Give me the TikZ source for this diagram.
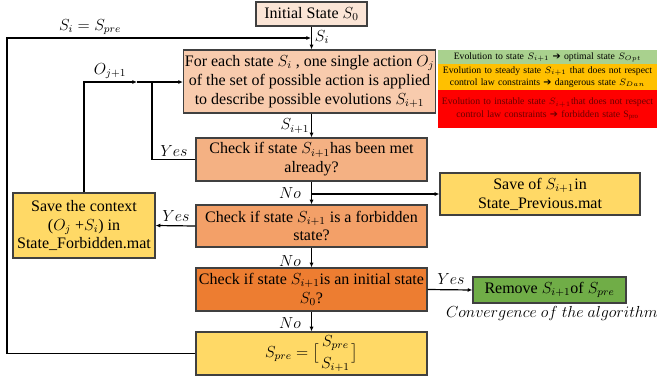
\documentclass[tikz,border=0pt]{standalone}
\usepackage{amsmath}
\usepackage{fontspec}
\setmainfont{Liberation Serif}
\newfontfamily\dvfont{DejaVu Sans}
\usetikzlibrary{arrows.meta}
\definecolor{cInit}{HTML}{FBE5D6}
\definecolor{cMain}{HTML}{F8CBAD}
\definecolor{cChkA}{HTML}{F4B183}
\definecolor{cChkB}{HTML}{F3A068}
\definecolor{cChkC}{HTML}{ED7D31}
\definecolor{cYel}{HTML}{FFD966}
\definecolor{cGrn}{HTML}{70AD47}
\definecolor{cLgG}{HTML}{A9D18E}
\definecolor{cLgO}{HTML}{FFC000}
\definecolor{cLgR}{HTML}{FF0000}
\definecolor{cRedTxt}{HTML}{6A0000}
\definecolor{cBord}{HTML}{404040}
\tikzset{
  box/.style={draw=cBord, line width=0.9pt, inner sep=1pt, align=center,
    font=\fontsize{12}{14.2}\selectfont},
  legbox/.style={draw=none, inner sep=0pt, align=center, text width=164pt,
    minimum width=164.25pt, font=\fontsize{7.3}{9.2}\selectfont},
  arr/.style={-{Latex[length=3.5pt,width=3pt]}, line width=0.9pt},
  ln/.style={line width=0.9pt},
  lbl/.style={font=\fontsize{12}{14}\selectfont, inner sep=1pt},
}
\newcommand\arrsym{{\dvfont\bfseries ➔}}
\begin{document}
\begin{tikzpicture}[x=0.75pt,y=-0.75pt]
\useasboundingbox (0,0) rectangle (659,383);
% boxes
\node (init) [box, fill=cInit, minimum width=83.25pt, minimum height=18pt] at (311.5,14) {Initial State $S_0$};
\node (main) [box, fill=cMain, minimum width=183.75pt, minimum height=47.25pt] at (309.5,81.5)
  {For each state $S_i$ , one single action $O_j$\\ of the set of possible action is applied\\ to describe possible evolutions $S_{i+1}$};
\node (chk1) [box, fill=cChkA, minimum width=173.25pt, minimum height=32.25pt] at (311.5,159.5)
  {Check if state $S_{i+1}$has been met\\ already?};
\node (chk2) [box, fill=cChkB, minimum width=173.25pt, minimum height=31.5pt] at (311.5,226)
  {Check if state $S_{i+1}$ is a forbidden\\ state?};
\node (chk3) [box, fill=cChkC, minimum width=173.25pt, minimum height=32.25pt] at (311.5,289.5)
  {Check if state $S_{i+1}$is an initial state\\ $S_0$?};
\node (spre) [box, fill=cYel, minimum width=173.25pt, minimum height=32.25pt] at (311.5,353.5)
  {$S_{pre}=\bigl[\genfrac{}{}{0pt}{0}{S_{pre}}{S_{i+1}}\bigr]$};
\node (savep) [box, fill=cYel, minimum width=150pt, minimum height=31.5pt] at (540,194)
  {Save of $S_{i+1}$in\\ State\_Previous.mat};
\node (ctx) [box, fill=cYel, minimum width=106.5pt, minimum height=48.75pt] at (84,225.5)
  {Save the context\\ ($O_j$ +$S_i$) in\\ State\_Forbidden.mat};
\node (rem) [box, fill=cGrn, minimum width=114.75pt, minimum height=19.5pt] at (549.5,290)
  {Remove $S_{i+1}$of $S_{pre}$};
\node (conv) [lbl] at (552,313) {$Convergence\ of\ the\ algorithm$};
% legend
\node (lg1) [legbox, fill=cLgG, minimum height=10.5pt] at (547.5,57)
  {Evolution to state $S_{i+1}$ \arrsym{} optimal state $S_{Opt}$};
\node (lg2) [legbox, fill=cLgO, minimum height=19.5pt] at (547.5,77)
  {Evolution to steady state $S_{i+1}$ that does not respect\\ control law constraints \arrsym{} dangerous state $S_{Dan}$};
\node (lg3) [legbox, fill=cLgR, text=cRedTxt, minimum height=28.5pt] at (547.5,109)
  {Evolution to instable state $S_{i+1}$that does not respect\\ control law constraints \arrsym{} forbidden state S$_{\mathrm{pro}}$};
% coordinates
\coordinate (lt) at (7,38);
\coordinate (jn) at (311,38);
\coordinate (oj) at (137,82);
\coordinate (yj) at (152,82);
\coordinate (br) at (311,194);
% connectors
\draw[arr] (init.south) -- (init.south |- main.north);
\draw[arr] (spre.west) -| (lt) -- (jn);
\draw[arr] (ctx.north) |- (oj);
\draw[arr] (oj) -- (main.west |- oj);
\draw[ln] (chk1.west) -| (yj);
\draw[arr] (main.south -| chk1.north) -- (chk1.north);
\draw[arr] (chk1.south) -- (chk2.north);
\draw[arr] (br) -- (savep.west);
\draw[arr] (chk2.west) -- (ctx.east);
\draw[arr] (chk2.south) -- (chk3.north);
\draw[arr] (chk3.east) -- (rem.west);
\draw[arr] (chk3.south) -- (spre.north);
% labels
\node (l1) [lbl] at (90,27) {$S_i=S_{pre}$};
\node (l2) [lbl] at (322,37) {$S_i$};
\node (l3) [lbl] at (110,71) {$O_{j+1}$};
\node (l4) [lbl] at (295,126) {$S_{i+1}$};
\node (l5) [lbl] at (174,151) {$Yes$};
\node (l6) [lbl] at (290,193) {$No$};
\node (l7) [lbl] at (176,216) {$Yes$};
\node (l8) [lbl] at (290,261) {$No$};
\node (l9) [lbl] at (451,279) {$Yes$};
\node (l10) [lbl] at (290,323) {$No$};
\end{tikzpicture}
\end{document}
